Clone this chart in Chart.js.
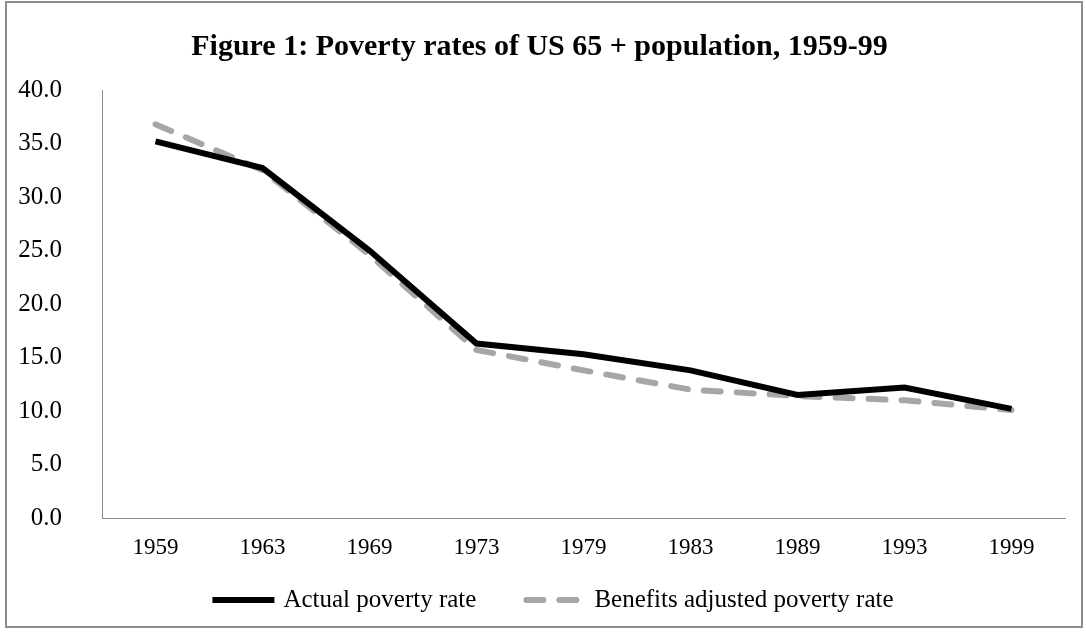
<!DOCTYPE html>
<html>
<head>
<meta charset="utf-8">
<script src="https://cdn.jsdelivr.net/npm/chart.js@4.4.0/dist/chart.umd.min.js"></script>
<style>
  html, body { margin: 0; padding: 0; background: #fff; }
  #wrap { width: 1086px; height: 634px; position: relative; }
</style>
</head>
<body>
<div id="wrap"><canvas id="lineChart" width="1086" height="634"></canvas></div>
<script>
var years = ['1959', '1963', '1969', '1973', '1979', '1983', '1989', '1993', '1999'];
var actualRate = [35.2, 32.7, 25.0, 16.3, 15.3, 13.8, 11.5, 12.2, 10.2];
var adjustedRate = [36.8, 32.5, 24.6, 15.7, 13.8, 12.0, 11.4, 11.0, 10.1];
var yTicks = [0, 5, 10, 15, 20, 25, 30, 35, 40];

var serif = "'Liberation Serif', 'Times New Roman', serif";

// grey frame round the whole figure
var framePlugin = {
    id: 'frame',
    afterDraw: function(chart) {
        var ctx = chart.ctx;
        ctx.save();
        ctx.strokeStyle = '#8c8c8c';
        ctx.lineWidth = 2;
        ctx.strokeRect(6, 2, 1076, 625);
        ctx.restore();
    }
};

// legend under the axis, drawn with each dataset's own line style
var bottomLegend = {
    id: 'bottomLegend',
    afterDraw: function(chart) {
        var ctx = chart.ctx;
        var sets = chart.data.datasets;
        var lineLen = 62, gap = 9, itemGap = 47, y = 600;
        ctx.save();
        ctx.font = '25px ' + serif;
        var total = 0;
        sets.forEach(function(ds, i) {
            total += lineLen + gap + ctx.measureText(ds.label).width;
            if (i < sets.length - 1) total += itemGap;
        });
        var x = 553 - total / 2;
        sets.forEach(function(ds) {
            ctx.beginPath();
            ctx.strokeStyle = ds.borderColor;
            ctx.lineWidth = ds.borderWidth;
            ctx.lineCap = ds.borderCapStyle || 'butt';
            ctx.setLineDash(ds.borderDash || []);
            var inset = ds.borderCapStyle === 'round' ? ds.borderWidth / 2 : 0;
            ctx.moveTo(x + inset, y);
            ctx.lineTo(x + lineLen - inset, y);
            ctx.stroke();
            ctx.setLineDash([]);
            x += lineLen + gap;
            ctx.fillStyle = '#000';
            ctx.textBaseline = 'middle';
            ctx.textAlign = 'left';
            ctx.fillText(ds.label, x, y);
            x += ctx.measureText(ds.label).width + itemGap;
        });
        ctx.restore();
    }
};

function renderChart() {
    var ctx = document.getElementById('lineChart').getContext('2d');
    var myChart = new Chart(ctx, {
        type: 'line',
        data: {
            labels: years,
            datasets: [{
                label: 'Actual poverty rate',
                data: actualRate,
                borderColor: '#000000',
                backgroundColor: '#000000',
                borderWidth: 6,
                pointRadius: 0,
                tension: 0
            }, {
                label: 'Benefits adjusted poverty rate',
                data: adjustedRate,
                borderColor: '#a6a6a6',
                backgroundColor: '#a6a6a6',
                borderWidth: 6,
                borderDash: [17, 16],
                borderCapStyle: 'round',
                pointRadius: 0,
                tension: 0
            }]
        },
        options: {
            responsive: false,
            animation: false,
            layout: { padding: { left: 14, right: 21, top: 20, bottom: 72 } },
            plugins: {
                title: {
                    display: true,
                    text: 'Figure 1: Poverty rates of US 65 + population, 1959-99',
                    color: '#000',
                    font: { family: serif, size: 30, weight: 'bold' },
                    padding: { top: 9, bottom: 25 }
                },
                legend: { display: false },
                tooltip: { enabled: false }
            },
            scales: {
                x: {
                    offset: true,
                    afterFit: function(scale) { scale.height = 44; },
                    grid: { display: false },
                    border: { display: true, color: '#8c8c8c', width: 1 },
                    ticks: {
                        color: '#000',
                        font: { family: serif, size: 23 },
                        padding: 8,
                        maxRotation: 0,
                        autoSkip: false
                    }
                },
                y: {
                    min: 0,
                    max: 40,
                    afterBuildTicks: function(scale) {
                        scale.ticks = yTicks.map(function(v) { return { value: v }; });
                    },
                    afterFit: function(scale) { scale.width = 88; },
                    grid: { display: false },
                    border: { display: true, color: '#8c8c8c', width: 1 },
                    ticks: {
                        color: '#000',
                        font: { family: serif, size: 25 },
                        padding: 32,
                        callback: function(v) { return Number(v).toFixed(1); }
                    }
                }
            }
        },
        plugins: [framePlugin, bottomLegend]
    });
    return myChart;
}

renderChart();
</script>
</body>
</html>
